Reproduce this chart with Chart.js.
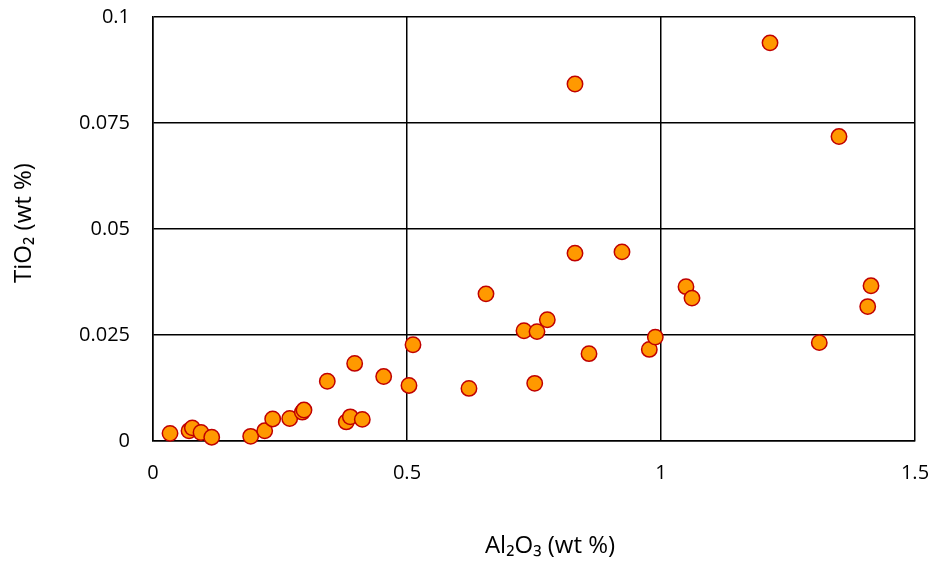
<!DOCTYPE html>
<html>
<head>
<meta charset="utf-8">
<script src="https://cdn.jsdelivr.net/npm/chart.js@4.4.1/dist/chart.umd.min.js"></script>
<style>
  html, body { margin: 0; padding: 0; background: #fff; }
  #wrap { width: 932px; height: 561px; }
</style>
</head>
<body>
<div id="wrap"><canvas id="c" width="932" height="561"></canvas></div>
<script>
const al2o3 = [0.0335, 0.0709, 0.0774, 0.0945, 0.1156, 0.1923, 0.2199, 0.2356, 0.2691, 0.2939,
               0.2972, 0.3431, 0.3805, 0.3884, 0.4120, 0.3970, 0.4541, 0.5039, 0.5118, 0.6220,
               0.6555, 0.7303, 0.7559, 0.7762, 0.7514, 0.8307, 0.8307, 0.8583, 0.9232, 0.9770,
               0.9888, 1.0492, 1.0610, 1.2146, 1.3116, 1.3504, 1.4069, 1.4134];
const tio2 = [0.0018, 0.0024, 0.0031, 0.0020, 0.0009, 0.0011, 0.0024, 0.0052, 0.0053, 0.0068,
              0.0073, 0.0141, 0.0045, 0.0057, 0.0051, 0.0183, 0.0152, 0.0131, 0.0227, 0.0124,
              0.0347, 0.0260, 0.0258, 0.0286, 0.0136, 0.0842, 0.0443, 0.0206, 0.0446, 0.0216,
              0.0245, 0.0364, 0.0337, 0.0939, 0.0232, 0.0718, 0.0317, 0.0366];
const xTicks = [0, 0.5, 1, 1.5];
const xTickLabels = ['0', '0.5', '1', '1.5'];
const yTicks = [0, 0.025, 0.05, 0.075, 0.1];
const yTickLabels = ['0', '0.025', '0.05', '0.075', '0.1'];
const xTitle = 'Al₂O₃ (wt %)';
const yTitle = 'TiO₂ (wt %)';

const points = al2o3.map((x, i) => ({ x: x, y: tio2[i] }));
const fontFam = "'Open Sans', 'Noto Sans', 'DejaVu Sans', sans-serif";

function labelFor(values, labels, v) {
  for (let i = 0; i < values.length; i++) {
    if (Math.abs(values[i] - v) < 1e-9) return labels[i];
  }
  return '';
}

// Axis titles, placed like the reference (slightly off the plot centre)
const axisTitles = {
  id: 'axisTitles',
  afterDraw(chart) {
    const ctx = chart.ctx;
    const a = chart.chartArea;
    ctx.save();
    ctx.fillStyle = '#000';
    ctx.font = '24px ' + fontFam;
    ctx.textAlign = 'center';
    ctx.textBaseline = 'middle';
    ctx.fillText(xTitle, (a.left + a.right) / 2 + 16, chart.height - 15);
    ctx.translate(24, (a.top + a.bottom) / 2 - 6);
    ctx.rotate(-Math.PI / 2);
    ctx.fillText(yTitle, 0, 0);
    ctx.restore();
  }
};

new Chart(document.getElementById('c'), {
  type: 'scatter',
  data: {
    datasets: [{
      data: points,
      backgroundColor: '#FF9900',
      borderColor: '#C00000',
      borderWidth: 1.5,
      pointRadius: 7.7,
      pointHoverRadius: 7.7,
      clip: false
    }]
  },
  plugins: [axisTitles],
  options: {
    responsive: false,
    devicePixelRatio: 1,
    animation: false,
    layout: { padding: { top: 17, right: 17, left: 0, bottom: 0 } },
    plugins: { legend: { display: false }, tooltip: { enabled: false } },
    scales: {
      x: {
        type: 'linear',
        min: 0, max: 1.5,
        afterBuildTicks: (s) => { s.ticks = xTicks.map(v => ({ value: v })); },
        afterFit: (s) => { s.height = 561 - 441; s.paddingLeft = 0; s.paddingRight = 0; },
        ticks: {
          padding: 20,
          color: '#000',
          font: { family: fontFam, size: 20 },
          callback: (v) => labelFor(xTicks, xTickLabels, v),
          maxRotation: 0
        },
        grid: { color: '#000', lineWidth: 1.5, drawTicks: false },
        border: { color: '#000', width: 1.5 },
        title: { display: false }
      },
      y: {
        type: 'linear',
        min: 0, max: 0.1,
        afterBuildTicks: (s) => { s.ticks = yTicks.map(v => ({ value: v })); },
        afterFit: (s) => { s.width = 153; s.paddingTop = 0; s.paddingBottom = 0; },
        ticks: {
          padding: 23,
          color: '#000',
          font: { family: fontFam, size: 20 },
          callback: (v) => labelFor(yTicks, yTickLabels, v)
        },
        grid: { color: '#000', lineWidth: 1.5, drawTicks: false },
        border: { color: '#000', width: 1.5 },
        title: { display: false }
      }
    }
  }
});
</script>
</body>
</html>
